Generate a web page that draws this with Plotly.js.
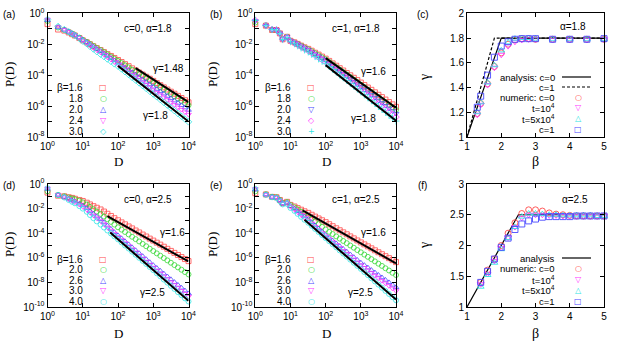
<!DOCTYPE html>
<html>
<head>
<meta charset="utf-8">
<script src="https://cdn.plot.ly/plotly-3.0.1.min.js"></script>
<style>
html, body { margin: 0; padding: 0; background: #fff; }
#plot { width: 623px; height: 343px; }
</style>
</head>
<body>
<div id="plot"></div>
<script>
// D values (log binned) shared by panels a, b, d, e
var D = [1, 2, 3, 4, 5, 6, 8, 10, 13, 16, 20, 25, 32, 40, 50, 63, 79, 100,
  126, 158, 200, 251, 316, 398, 501, 631, 794, 1000,
  1259, 1585, 1995, 2512, 3162, 3981, 5012, 6310, 7943, 10000];

// log10 P(D), panel (a): c=0, alpha=1.8
var pa16 = [-0.7,-1.05,-1.12,-1.24,-1.35,-1.44,-1.6,-1.75, -1.88,-2.0,-2.13,-2.25,-2.38,-2.51,-2.64,-2.76,-2.89,-3.02, -3.15,-3.29,-3.42,-3.56,-3.69,-3.83,-3.96,-4.1,-4.23,-4.37, -4.51,-4.65,-4.79,-4.93,-5.07,-5.2,-5.34,-5.48,-5.62,-5.76];
var pa18 = [-0.5,-0.92,-1.08,-1.2,-1.32,-1.41,-1.57,-1.72, -1.85,-1.98,-2.11,-2.25,-2.38,-2.52,-2.66,-2.8,-2.94,-3.08, -3.22,-3.36,-3.5,-3.65,-3.79,-3.93,-4.07,-4.21,-4.36,-4.5, -4.64,-4.79,-4.93,-5.08,-5.22,-5.37,-5.51,-5.66,-5.8,-5.95];
var pa20 = [-0.45,-0.9,-1.07,-1.2,-1.32,-1.41,-1.57,-1.73, -1.87,-2.02,-2.16,-2.31,-2.45,-2.6,-2.75,-2.9,-3.05,-3.2, -3.36,-3.51,-3.67,-3.82,-3.98,-4.13,-4.29,-4.44,-4.6,-4.75, -4.9,-5.05,-5.2,-5.35,-5.5,-5.65,-5.8,-5.95,-6.1,-6.25];
var pa24 = [-0.4,-0.88,-1.06,-1.2,-1.32,-1.42,-1.58,-1.76, -1.91,-2.07,-2.22,-2.38,-2.53,-2.68,-2.84,-2.99,-3.15,-3.3, -3.47,-3.63,-3.8,-3.97,-4.14,-4.3,-4.47,-4.63,-4.8,-4.97, -5.13,-5.29,-5.44,-5.6,-5.76,-5.92,-6.08,-6.23,-6.39,-6.55];
var pa30 = [-0.4,-0.85,-1.05,-1.2,-1.33,-1.44,-1.62,-1.8, -1.97,-2.14,-2.31,-2.48,-2.65,-2.8,-2.96,-3.11,-3.27,-3.42, -3.6,-3.78,-3.96,-4.14,-4.32,-4.5,-4.68,-4.86,-5.04,-5.22, -5.4,-5.58,-5.76,-5.94,-6.12,-6.3,-6.48,-6.66,-6.84,-7.02];

// panel (b): c=1, alpha=1.8
var pb16 = [-0.7,-0.8,-1.08,-1.08,-1.3,-1.68,-1.52,-1.78, -1.88,-1.98,-2.09,-2.2,-2.3,-2.42,-2.55,-2.67,-2.8,-2.93, -3.08,-3.24,-3.39,-3.55,-3.7,-3.86,-4.01,-4.17,-4.32,-4.48, -4.64,-4.8,-4.95,-5.11,-5.27,-5.42,-5.58,-5.74,-5.89,-6.05];
var pb18 = [-0.6,-0.78,-1.06,-1.08,-1.3,-1.66,-1.52,-1.78, -1.89,-1.99,-2.1,-2.22,-2.33,-2.46,-2.59,-2.72,-2.85,-2.98, -3.15,-3.31,-3.48,-3.64,-3.8,-3.96,-4.12,-4.29,-4.45,-4.62, -4.78,-4.94,-5.1,-5.27,-5.43,-5.6,-5.76,-5.92,-6.09,-6.25];
var pb20 = [-0.5,-0.8,-1.05,-1.07,-1.3,-1.67,-1.53,-1.79, -1.9,-2.01,-2.13,-2.25,-2.37,-2.51,-2.65,-2.78,-2.92,-3.06, -3.23,-3.4,-3.57,-3.74,-3.91,-4.08,-4.25,-4.42,-4.59,-4.76, -4.93,-5.11,-5.28,-5.45,-5.63,-5.8,-5.97,-6.15,-6.32,-6.49];
var pb24 = [-0.45,-0.78,-1.04,-1.07,-1.31,-1.68,-1.55,-1.8, -1.92,-2.04,-2.17,-2.29,-2.42,-2.56,-2.71,-2.85,-3.0,-3.14, -3.32,-3.5,-3.68,-3.86,-4.04,-4.22,-4.4,-4.58,-4.76,-4.94, -5.12,-5.3,-5.47,-5.65,-5.83,-6.0,-6.18,-6.36,-6.53,-6.71];
var pb30 = [-0.45,-0.8,-1.05,-1.08,-1.32,-1.7,-1.58,-1.84, -1.97,-2.1,-2.24,-2.37,-2.5,-2.65,-2.8,-2.95,-3.1,-3.26, -3.44,-3.62,-3.8,-3.99,-4.17,-4.35,-4.53,-4.72,-4.9,-5.08, -5.27,-5.46,-5.65,-5.84,-6.03,-6.21,-6.4,-6.59,-6.78,-6.97];

// panel (d): c=0, alpha=2.5
var pd16 = [-0.7,-0.95,-1.0,-1.08,-1.13,-1.2,-1.3,-1.38, -1.52,-1.66,-1.8,-1.93,-2.07,-2.24,-2.42,-2.6,-2.78,-2.95, -3.12,-3.28,-3.45,-3.61,-3.78,-3.94,-4.11,-4.27,-4.44,-4.6, -4.77,-4.93,-5.1,-5.27,-5.44,-5.6,-5.77,-5.94,-6.1,-6.27];
var pd20 = [-0.6,-0.9,-1.0,-1.1,-1.17,-1.24,-1.36,-1.49, -1.67,-1.86,-2.05,-2.24,-2.43,-2.65,-2.86,-3.08,-3.3,-3.52, -3.71,-3.9,-4.1,-4.29,-4.48,-4.67,-4.87,-5.06,-5.26,-5.45, -5.64,-5.83,-6.02,-6.21,-6.4,-6.59,-6.78,-6.97,-7.16,-7.35];
var pd26 = [-0.4,-0.88,-1.05,-1.2,-1.32,-1.42,-1.6,-1.75, -1.97,-2.2,-2.42,-2.65,-2.87,-3.13,-3.39,-3.66,-3.92,-4.18, -4.42,-4.66,-4.91,-5.15,-5.39,-5.63,-5.87,-6.12,-6.36,-6.6, -6.83,-7.06,-7.29,-7.52,-7.75,-7.98,-8.21,-8.44,-8.67,-8.9];
var pd30 = [-0.35,-0.88,-1.07,-1.24,-1.37,-1.48,-1.67,-1.85, -2.08,-2.31,-2.54,-2.77,-3.0,-3.26,-3.52,-3.78,-4.04,-4.3, -4.55,-4.8,-5.05,-5.3,-5.55,-5.8,-6.05,-6.3,-6.55,-6.8, -7.04,-7.27,-7.51,-7.74,-7.98,-8.21,-8.45,-8.68,-8.92,-9.15];
var pd40 = [-0.35,-0.9,-1.1,-1.3,-1.45,-1.57,-1.8,-2.0, -2.26,-2.52,-2.78,-3.04,-3.3,-3.54,-3.78,-4.02,-4.26,-4.5, -4.75,-5.0,-5.25,-5.5,-5.75,-6.0,-6.25,-6.5,-6.75,-7.0, -7.26,-7.51,-7.77,-8.02,-8.28,-8.53,-8.79,-9.04,-9.3,-9.55];

// panel (e): c=1, alpha=2.5
var pe16 = [-0.75,-0.85,-1.05,-1.08,-1.3,-1.55,-1.45,-1.7, -1.83,-1.96,-2.09,-2.22,-2.35,-2.5,-2.65,-2.8,-2.95,-3.1, -3.27,-3.43,-3.6,-3.76,-3.93,-4.09,-4.26,-4.42,-4.59,-4.75, -4.91,-5.07,-5.23,-5.39,-5.55,-5.71,-5.87,-6.03,-6.19,-6.35];
var pe20 = [-0.6,-0.84,-1.04,-1.08,-1.31,-1.56,-1.47,-1.72, -1.9,-2.07,-2.25,-2.42,-2.6,-2.82,-3.04,-3.26,-3.48,-3.7, -3.89,-4.07,-4.26,-4.44,-4.63,-4.81,-5.0,-5.18,-5.37,-5.55, -5.74,-5.92,-6.11,-6.29,-6.48,-6.66,-6.85,-7.03,-7.22,-7.4];
var pe26 = [-0.45,-0.85,-1.05,-1.1,-1.33,-1.58,-1.52,-1.8, -2.01,-2.22,-2.43,-2.64,-2.85,-3.11,-3.37,-3.63,-3.89,-4.15, -4.38,-4.6,-4.83,-5.05,-5.28,-5.5,-5.73,-5.95,-6.18,-6.4, -6.6,-6.8,-7.0,-7.2,-7.4,-7.6,-7.8,-8.0,-8.2,-8.4];
var pe30 = [-0.4,-0.86,-1.06,-1.1,-1.35,-1.6,-1.55,-1.85, -2.07,-2.29,-2.51,-2.73,-2.95,-3.21,-3.47,-3.73,-3.99,-4.25, -4.49,-4.72,-4.96,-5.19,-5.43,-5.66,-5.9,-6.13,-6.37,-6.6, -6.81,-7.02,-7.23,-7.44,-7.65,-7.86,-8.07,-8.28,-8.49,-8.7];
var pe40 = [-0.4,-0.88,-1.08,-1.14,-1.4,-1.66,-1.62,-1.95, -2.19,-2.43,-2.67,-2.91,-3.15,-3.4,-3.65,-3.9,-4.15,-4.4, -4.65,-4.9,-5.15,-5.4,-5.65,-5.9,-6.15,-6.4,-6.65,-6.9, -7.16,-7.41,-7.67,-7.92,-8.18,-8.43,-8.69,-8.94,-9.2,-9.45];

// guide lines: [D start, D end], [log10 P start, log10 P end]
var gaX1 = [316, 10000], gaY1 = [-3.55, -5.75];   // gamma=1.48
var gaX2 = [100, 10000], gaY2 = [-3.4, -7.0];     // gamma=1.8
var gbX1 = [100, 10000], gbY1 = [-2.9, -6.1];     // gamma=1.6
var gbX2 = [100, 10000], gbY2 = [-3.35, -6.95];   // gamma=1.8
var gdX1 = [50, 10000], gdY1 = [-2.62, -6.3];     // gamma=1.6
var gdX2 = [60, 10000], gdY2 = [-3.94, -9.5];     // gamma=2.5
var geX1 = [22, 10000], geY1 = [-2.15, -6.45];    // gamma=1.6
var geX2 = [25, 10000], geY2 = [-2.9, -9.4];      // gamma=2.5

// panel (c): gamma vs beta, alpha=1.8
var betaC = [1.3, 1.4, 1.6, 1.8, 2.0, 2.2, 2.4, 2.6, 2.8, 3.0, 3.5, 4.0, 4.5, 5.0];
var gC_c0 = [1.19, 1.27, 1.43, 1.57, 1.68, 1.75, 1.785, 1.795, 1.795, 1.79, 1.79, 1.79, 1.79, 1.79];
var gC_t1 = [1.18, 1.26, 1.42, 1.56, 1.665, 1.735, 1.77, 1.785, 1.79, 1.79, 1.785, 1.785, 1.785, 1.79];
var gC_t5 = [1.2, 1.28, 1.44, 1.58, 1.7, 1.765, 1.795, 1.8, 1.8, 1.795, 1.79, 1.79, 1.79, 1.79];
var gC_c1 = [1.24, 1.33, 1.5, 1.645, 1.735, 1.77, 1.79, 1.795, 1.795, 1.795, 1.79, 1.79, 1.79, 1.795];
var anC0x = [1, 2, 5], anC0y = [1, 1.8, 1.8];
var anC1x = [1, 1.8, 5], anC1y = [1, 1.8, 1.8];

// panel (f): gamma vs beta, alpha=2.5
var betaF = [1.4, 1.6, 1.8, 2.0, 2.2, 2.4, 2.6, 2.8, 3.0, 3.2, 3.4, 3.6, 3.8, 4.0, 4.2, 4.4, 4.6, 4.8, 5.0];
var gF_c0 = [1.4, 1.6, 1.78, 2.0, 2.2, 2.37, 2.52, 2.58, 2.58, 2.56, 2.53, 2.51, 2.5, 2.49, 2.48, 2.48, 2.48, 2.48, 2.48];
var gF_t1 = [1.37, 1.54, 1.75, 1.96, 2.13, 2.3, 2.45, 2.5, 2.5, 2.5, 2.49, 2.49, 2.48, 2.48, 2.48, 2.48, 2.48, 2.48, 2.48];
var gF_t5 = [1.33, 1.52, 1.72, 1.94, 2.12, 2.3, 2.47, 2.52, 2.52, 2.51, 2.5, 2.5, 2.49, 2.49, 2.49, 2.49, 2.49, 2.48, 2.48];
var gF_c1 = [1.4, 1.58, 1.78, 1.97, 2.12, 2.26, 2.35, 2.4, 2.43, 2.46, 2.47, 2.47, 2.47, 2.47, 2.48, 2.48, 2.48, 2.48, 2.48];
var anFx = [1, 2.5, 5], anFy = [1, 2.5, 2.5];

// tick labels
var dTicks = [1, 10, 100, 1000, 10000];
var dTickText = ['10<sup>0</sup>', '10<sup>1</sup>', '10<sup>2</sup>', '10<sup>3</sup>', '10<sup>4</sup>'];
var pTicks8 = [1, 1e-2, 1e-4, 1e-6, 1e-8];
var pTickText8 = ['10<sup>0</sup>', '10<sup>-2</sup>', '10<sup>-4</sup>', '10<sup>-6</sup>', '10<sup>-8</sup>'];
var pMinor8 = [1e-1, 1e-3, 1e-5, 1e-7];
var pTicks10 = [1, 1e-2, 1e-4, 1e-6, 1e-8, 1e-10];
var pTickText10 = ['10<sup>0</sup>', '10<sup>-2</sup>', '10<sup>-4</sup>', '10<sup>-6</sup>', '10<sup>-8</sup>', '10<sup>-10</sup>'];
var pMinor10 = [1e-1, 1e-3, 1e-5, 1e-7, 1e-9];

// legend labels
var legA = ['β=1.6', '1.8', '2.0', '2.4', '3.0'];
var legD = ['β=1.6', '2.0', '2.6', '3.0', '4.0'];
var legNum = ['numeric: c=0', 't=10<sup>4</sup>', 't=5x10<sup>4</sup>', 'c=1'];

var W = 623, H = 343;
function px(x) { return x / W; }
function py(y) { return 1 - y / H; }

var RED = '#ff4a4a', GREEN = '#38d838', BLUE = '#4848ff', MAG = '#ff38ff', CYAN = '#30e4e4';
var cols5 = [RED, GREEN, BLUE, MAG, CYAN];

var data = [];

function pdPanel(n, series, symbols, guides) {
  series.forEach(function (s, i) {
    data.push({
      x: D, y: s.map(function (v) { return Math.pow(10, v); }),
      xaxis: 'x' + n, yaxis: 'y' + n, type: 'scatter', mode: 'markers',
      cliponaxis: false, hoverinfo: 'skip',
      marker: { symbol: symbols[i], size: 5, color: cols5[i], line: { color: cols5[i], width: 0.8 } }
    });
  });
  guides.forEach(function (g) {
    data.push({
      x: g[0], y: g[1].map(function (v) { return Math.pow(10, v); }),
      xaxis: 'x' + n, yaxis: 'y' + n, type: 'scatter', mode: 'lines',
      hoverinfo: 'skip', line: { color: '#000', width: 2 }
    });
  });
}

pdPanel('', [pa16, pa18, pa20, pa24, pa30],
  ['square-open', 'circle-open', 'triangle-up-open', 'triangle-down-open', 'diamond-open'],
  [[gaX1, gaY1], [gaX2, gaY2]]);
pdPanel('2', [pb16, pb18, pb20, pb24, pb30],
  ['square-open', 'circle-open', 'triangle-down-open', 'diamond-open', 'cross-thin-open'],
  [[gbX1, gbY1], [gbX2, gbY2]]);
pdPanel('4', [pd16, pd20, pd26, pd30, pd40],
  ['square-open', 'circle-open', 'triangle-up-open', 'triangle-down-open', 'circle-open'],
  [[gdX1, gdY1], [gdX2, gdY2]]);
pdPanel('5', [pe16, pe20, pe26, pe30, pe40],
  ['square-open', 'circle-open', 'triangle-up-open', 'triangle-down-open', 'circle-open'],
  [[geX1, geY1], [geX2, geY2]]);

function gammaPanel(n, beta, sets, lines) {
  lines.forEach(function (l) {
    data.push({ x: l[0], y: l[1], xaxis: 'x' + n, yaxis: 'y' + n, type: 'scatter', mode: 'lines',
      hoverinfo: 'skip', line: { color: '#000', width: 1.2, dash: l[2] } });
  });
  var syms = ['circle-open', 'triangle-down-open', 'triangle-up-open', 'square-open'];
  var cols = [RED, MAG, CYAN, BLUE];
  sets.forEach(function (s, i) {
    data.push({ x: beta, y: s, xaxis: 'x' + n, yaxis: 'y' + n, type: 'scatter', mode: 'markers',
      cliponaxis: false, hoverinfo: 'skip',
      marker: { symbol: syms[i], size: 6, color: cols[i], line: { color: cols[i], width: 0.9 } } });
  });
}
gammaPanel('3', betaC, [gC_c0, gC_t1, gC_t5, gC_c1], [[anC0x, anC0y, 'solid'], [anC1x, anC1y, '3px,2px']]);
gammaPanel('6', betaF, [gF_c0, gF_t1, gF_t5, gF_c1], [[anFx, anFy, 'solid']]);

// plot boxes in pixels: [left, right, top, bottom]
var boxes = [
  [47.5, 188.5, 13.3, 137], [255.3, 396, 13.3, 137], [467, 604, 13.3, 137],
  [47.5, 188.5, 184, 307], [255.3, 396, 184, 307], [467, 604, 184, 307]
];

function axBase(dom, anchor) {
  return { domain: dom, anchor: anchor, showline: true, linecolor: '#000', linewidth: 1,
    mirror: 'ticks', ticks: 'inside', ticklen: 4, tickwidth: 1, tickcolor: '#000',
    showgrid: false, zeroline: false, tickfont: { size: 10, color: '#000' } };
}

var layout = {
  width: W, height: H, margin: { l: 0, r: 0, t: 0, b: 0 },
  paper_bgcolor: '#fff', plot_bgcolor: '#fff', showlegend: false,
  font: { family: 'Liberation Sans, Arial, sans-serif', size: 10, color: '#000' },
  annotations: [], shapes: []
};

boxes.forEach(function (b, i) {
  var n = i === 0 ? '' : String(i + 1);
  var xa = axBase([px(b[0]), px(b[1])], 'y' + n);
  var ya = axBase([py(b[3]), py(b[2])], 'x' + n);
  if (i === 2 || i === 5) {
    xa.range = [1, 5]; xa.dtick = 1; xa.tick0 = 1;
    ya.range = i === 2 ? [1, 2] : [1, 3];
    ya.dtick = i === 2 ? 0.2 : 0.5; ya.tick0 = 1;
  } else {
    xa.type = 'log'; xa.range = [0, 4]; xa.tickmode = 'array';
    xa.tickvals = dTicks; xa.ticktext = dTickText;
    ya.type = 'log'; ya.tickmode = 'array';
    if (i < 3) { ya.range = [-8, 0]; ya.tickvals = pTicks8; ya.ticktext = pTickText8;
      ya.minor = { tickmode: 'array', tickvals: pMinor8, ticks: 'inside', ticklen: 4, tickcolor: '#000' }; }
    else { ya.range = [-10, 0]; ya.tickvals = pTicks10; ya.ticktext = pTickText10;
      ya.minor = { tickmode: 'array', tickvals: pMinor10, ticks: 'inside', ticklen: 4, tickcolor: '#000' }; }
  }
  layout['xaxis' + n] = xa;
  layout['yaxis' + n] = ya;
});

function ann(text, x, y, o) {
  var a = { text: text, x: px(x), y: py(y), xref: 'paper', yref: 'paper', showarrow: false,
    xanchor: 'center', yanchor: 'middle', font: { size: 10 } };
  for (var k in o) a[k] = o[k];
  return a;
}
var A = layout.annotations;
var serif = 'Liberation Serif, Times New Roman, serif';

// panel labels and axis titles
[['(a)', 9, 14], ['(b)', 216, 14], ['(c)', 423, 14], ['(d)', 9, 185], ['(e)', 216, 185], ['(f)', 423, 185]]
  .forEach(function (l) { A.push(ann(l[0], l[1], l[2], { font: { size: 10 } })); });
[[9, 75], [212, 75], [9, 245], [212, 245]].forEach(function (p) {
  A.push(ann('P(D)', p[0], p[1], { textangle: -90, font: { family: serif, size: 13 } }));
});
[[118, 161], [326, 161], [118, 333], [326, 333]].forEach(function (p) {
  A.push(ann('D', p[0], p[1], { font: { family: serif, size: 13 } }));
});
A.push(ann('γ', 424, 78, { textangle: -90, font: { family: serif, size: 14 } }));
A.push(ann('γ', 424, 246, { textangle: -90, font: { family: serif, size: 14 } }));
A.push(ann('β', 535, 161, { font: { family: serif, size: 14 } }));
A.push(ann('β', 535, 333, { font: { family: serif, size: 14 } }));

// in-plot labels
A.push(ann('c=0, α=1.8', 148, 29));
A.push(ann('γ=1.48', 168, 68));
A.push(ann('γ=1.8', 155, 116));
A.push(ann('c=1, α=1.8', 356, 29));
A.push(ann('γ=1.6', 373, 71));
A.push(ann('γ=1.8', 363, 118));
A.push(ann('c=0, α=2.5', 148, 199));
A.push(ann('γ=1.6', 172, 233));
A.push(ann('γ=2.5', 152, 292));
A.push(ann('c=1, α=2.5', 356, 199));
A.push(ann('γ=1.6', 373, 233));
A.push(ann('γ=2.5', 360, 292));
A.push(ann('α=1.8', 573, 26));
A.push(ann('α=2.5', 575, 199));

// key entries: text on the left, sample on the right
function keyRows(labels, glyphs, cols, xText, xSym, rows, fs) {
  labels.forEach(function (t, i) {
    A.push(ann(t, xText, rows[i], { xanchor: 'right', font: { size: fs } }));
    A.push(ann(glyphs[i], xSym, rows[i], { font: { family: 'DejaVu Sans', size: 8, color: cols[i] } }));
  });
}
var rowsTop = [87, 98, 109, 120, 131];
var rowsBot = [259, 269.5, 280, 290.5, 301];
keyRows(legA, ['□', '○', '△', '▽', '◇'], cols5, 85, 103, rowsTop, 10);
keyRows(legA, ['□', '○', '▽', '◇', '+'], cols5, 293, 311, rowsTop, 10);
keyRows(legD, ['□', '○', '△', '▽', '○'], cols5, 85, 103, rowsBot, 10);
keyRows(legD, ['□', '○', '△', '▽', '○'], cols5, 293, 311, rowsBot, 10);
var numGlyph = ['○', '▽', '△', '□'], numCols = [RED, MAG, CYAN, BLUE];
keyRows(legNum, numGlyph, numCols, 557, 578, [97.5, 108, 118.5, 129], 9.5);
keyRows(legNum, numGlyph, numCols, 557, 578, [268.5, 279.5, 290, 301], 9.5);
A.push(ann('analysis: c=0', 557, 77, { xanchor: 'right', font: { size: 9.5 } }));
A.push(ann('c=1', 557, 87, { xanchor: 'right', font: { size: 9.5 } }));
A.push(ann('analysis', 557, 258, { xanchor: 'right', font: { size: 9.5 } }));
[[77, 'solid'], [87, '3px,2px'], [258, 'solid']].forEach(function (s) {
  layout.shapes.push({ type: 'line', xref: 'paper', yref: 'paper', x0: px(562), x1: px(591),
    y0: py(s[0]), y1: py(s[0]), line: { color: '#000', width: 1.2, dash: s[1] } });
});

Plotly.newPlot('plot', data, layout, { staticPlot: true, displayModeBar: false });
</script>
</body>
</html>
